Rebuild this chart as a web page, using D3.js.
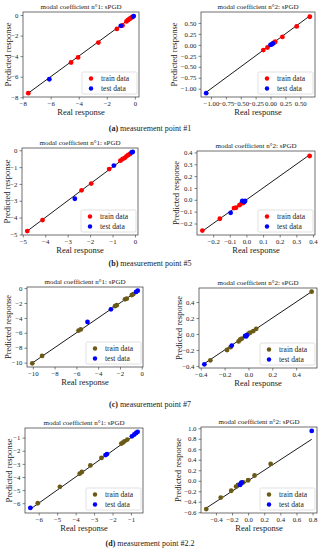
<!DOCTYPE html>
<html>
<head>
<meta charset="utf-8">
<script src="https://cdn.jsdelivr.net/npm/d3@7"></script>
<style>
  body { margin: 0; background: #fff; }
  svg { display: block; font-family: "Liberation Serif", "DejaVu Serif", serif; }
</style>
</head>
<body>
<div id="chart"></div>
<script>
// measurement point #1
const a1Train = [[-7.6,-7.6],[-4.55,-4.62],[-4.05,-4.12],[-2.6,-2.68],[-1.28,-1.35],[-0.88,-1.02],[-0.6,-0.62],[-0.5,-0.5],[-0.42,-0.42],[-0.35,-0.36],[-0.28,-0.27],[-0.2,-0.22]];
const a1Test = [[-6.1,-6.25],[-1.0,-1.05],[-0.08,-0.1],[-0.12,-0.15]];
const a2Train = [[0.66,0.64],[0.44,0.42],[0.2,0.18],[0.08,0.07],[0.06,0.05],[-0.05,-0.06],[-0.12,-0.12]];
const a2Test = [[-1.08,-1.1],[0.04,0.03],[0.02,0.01],[0.0,0.0]];
// measurement point #5
const b1Train = [[-4.8,-4.8],[-4.12,-4.15],[-2.38,-2.38],[-1.95,-1.98],[-1.15,-1.12],[-0.65,-0.62],[-0.55,-0.52],[-0.45,-0.45],[-0.38,-0.36],[-0.3,-0.28],[-0.22,-0.22]];
const b1Test = [[-2.68,-2.88],[-0.94,-0.91],[-0.15,-0.13],[-0.1,-0.1]];
const b2Train = [[0.38,0.37],[-0.265,-0.26],[-0.16,-0.16],[-0.075,-0.07],[-0.063,-0.067],[-0.042,-0.045],[-0.03,-0.03],[-0.02,-0.028]];
const b2Test = [[-0.095,-0.11],[-0.025,-0.01],[-0.012,-0.016],[-0.008,-0.01]];
// measurement point #7
const c1Train = [[-10.05,-10.1],[-9.15,-9.1],[-5.8,-5.7],[-5.6,-5.55],[-2.46,-2.43],[-2.3,-2.3],[-1.54,-1.5],[-1.38,-1.42],[-0.92,-0.94],[-0.77,-0.8]];
const c1Test = [[-4.98,-4.55],[-2.83,-2.85],[-0.52,-0.51],[-0.37,-0.34]];
const c2Train = [[-0.32,-0.33],[-0.18,-0.2],[-0.15,-0.165],[-0.083,-0.093],[-0.069,-0.069],[-0.055,-0.057],[0.0,0.005],[0.014,0.016],[0.04,0.036],[0.065,0.065],[0.53,0.53]];
const c2Test = [[-0.37,-0.38],[-0.14,-0.145],[-0.028,-0.024],[-0.014,-0.016],[-0.02,-0.03]];
// measurement point #2.2
const d1Train = [[-6.05,-6.0],[-4.85,-4.75],[-3.78,-3.75],[-3.66,-3.62],[-3.2,-3.12],[-2.6,-2.55],[-1.52,-1.45],[-1.44,-1.38],[-1.35,-1.28],[-1.2,-1.15]];
const d1Test = [[-6.45,-6.35],[-2.38,-2.33],[-2.3,-2.25],[-0.95,-0.9],[-0.82,-0.76],[-0.72,-0.64],[-0.64,-0.56]];
const d2Train = [[-0.52,-0.54],[-0.34,-0.32],[-0.21,-0.19],[-0.15,-0.11],[-0.126,-0.08],[-0.06,-0.03],[0.0,0.01],[0.08,0.1],[0.28,0.32]];
const d2Test = [[-0.1,-0.08],[-0.09,-0.05],[-0.08,-0.03],[0.79,0.95]];

const ticksA1 = [-8,-6,-4,-2,0];
const ticksA2 = [-1,-0.75,-0.5,-0.25,0,0.25,0.5];
const ticksB1 = [-5,-4,-3,-2,-1,0];
const ticksB2 = [-0.2,-0.1,0,0.1,0.2,0.3,0.4];
const ticksC1 = [-10,-8,-6,-4,-2,0];
const ticksC2 = [-0.4,-0.2,0,0.2,0.4];
const ticksD1 = [-6,-5,-4,-3,-2,-1];
const ticksD2x = [-0.4,-0.2,0,0.2,0.4,0.6,0.8];
const ticksD2y = [-0.6,-0.4,-0.2,0,0.2,0.4,0.6,0.8,1.0];

const captions = [
  { tag: "(a)", text: " measurement point #1", y: 131 },
  { tag: "(b)", text: " measurement point #5", y: 266 },
  { tag: "(c)", text: " measurement point #7", y: 407 },
  { tag: "(d)", text: " measurement point #2.2", y: 546 }
];

const RED = "#ff0000", BLUE = "#0000ff", OLIVE = "#6b5a16";

const panels = [
  { box: [23,12,139,97], ylab: 11, title: "modal coefficient n°1: sPGD", train: a1Train, test: a1Test, xt: ticksA1, yt: ticksA1, fmt: d3.format("d"), trainColor: RED },
  { box: [201,12,315,97], ylab: 177, title: "modal coefficient n°2: sPGD", train: a2Train, test: a2Test, xt: ticksA2, yt: ticksA2, fmt: d3.format(".2f"), trainColor: RED },
  { box: [22,148,138,235], ylab: 10, title: "modal coefficient n°1: sPGD", train: b1Train, test: b1Test, xt: ticksB1, yt: ticksB1, fmt: d3.format("d"), trainColor: RED },
  { box: [197,151,315,235], ylab: 179, title: "modal coefficient n°2: sPGD", train: b2Train, test: b2Test, xt: ticksB2, yt: ticksB2, fmt: d3.format(".1f"), trainColor: RED },
  { box: [27,287,143,367], ylab: 11, title: "modal coefficient n°1: sPGD", train: c1Train, test: c1Test, xt: ticksC1, yt: ticksC1, fmt: d3.format("d"), trainColor: OLIVE },
  { box: [199,288,317,368], ylab: 182, title: "modal coefficient n°2: sPGD", train: c2Train, test: c2Test, xt: ticksC2, yt: ticksC2, fmt: d3.format(".1f"), trainColor: OLIVE },
  { box: [25,428,143,513], ylab: 12, title: "modal coefficient n°1: sPGD", train: d1Train, test: d1Test, xt: ticksD1, yt: ticksD1, fmt: d3.format("d"), trainColor: OLIVE },
  { box: [201,427,317,513], ylab: 181, title: "modal coefficient n°2: sPGD", train: d2Train, test: d2Test, xt: ticksD2x, yt: ticksD2y, fmt: d3.format(".1f"), trainColor: OLIVE }
];

const svg = d3.select("#chart").append("svg").attr("width", 320).attr("height", 550);

// matplotlib-ish minus sign
const mfmt = f => v => f(v).replace("-", "\u2212");

function pad(ext) {
  const p = (ext[1] - ext[0]) * 0.05;
  return [ext[0] - p, ext[1] + p];
}

panels.forEach(p => {
  const [x0, y0, x1, y1] = p.box;
  const all = p.train.concat(p.test);
  const xExt = d3.extent(all, d => d[0]);
  const yExt = d3.extent(all.map(d => d[1]).concat(xExt));

  const x = d3.scaleLinear().domain(pad(xExt)).range([x0, x1]);
  const y = d3.scaleLinear().domain(pad(yExt)).range([y1, y0]);

  const g = svg.append("g");

  // axes
  const xAxis = g.append("g").attr("transform", `translate(0,${y1})`)
    .call(d3.axisBottom(x).tickValues(p.xt).tickFormat(mfmt(p.fmt)).tickSize(2.5).tickPadding(2));
  const yAxis = g.append("g").attr("transform", `translate(${x0},0)`)
    .call(d3.axisLeft(y).tickValues(p.yt).tickFormat(mfmt(p.fmt)).tickSize(2.5).tickPadding(2));
  [xAxis, yAxis].forEach(a => {
    a.select(".domain").remove();
    a.selectAll("line").attr("stroke", "#333").attr("stroke-width", 0.6);
    a.selectAll("text").attr("font-size", 6.8).attr("fill", "#222")
      .attr("font-family", "Liberation Serif, serif");
  });

  // diagonal line y = x
  g.append("line")
    .attr("x1", x(xExt[0])).attr("y1", y(xExt[0]))
    .attr("x2", x(xExt[1])).attr("y2", y(xExt[1]))
    .attr("stroke", "#000").attr("stroke-width", 0.9);

  g.selectAll("circle.train").data(p.train).join("circle")
    .attr("class", "train")
    .attr("cx", d => x(d[0])).attr("cy", d => y(d[1])).attr("r", 2.4)
    .attr("fill", p.trainColor);
  g.selectAll("circle.test").data(p.test).join("circle")
    .attr("class", "test")
    .attr("cx", d => x(d[0])).attr("cy", d => y(d[1])).attr("r", 2.4)
    .attr("fill", BLUE);

  // frame
  g.append("rect").attr("x", x0).attr("y", y0).attr("width", x1 - x0).attr("height", y1 - y0)
    .attr("fill", "none").attr("stroke", "#333").attr("stroke-width", 0.7);

  // title
  g.append("text").attr("x", (x0 + x1) / 2).attr("y", y0 - 3)
    .attr("text-anchor", "middle").attr("font-size", 7).attr("fill", "#222")
    .text(p.title);

  // axis labels
  g.append("text").attr("x", (x0 + x1) / 2).attr("y", y1 + 18)
    .attr("text-anchor", "middle").attr("font-size", 8.5).attr("fill", "#222")
    .text("Real response");
  g.append("text")
    .attr("transform", `translate(${p.ylab},${(y0 + y1) / 2}) rotate(-90)`)
    .attr("text-anchor", "middle").attr("font-size", 8.5).attr("fill", "#222")
    .text("Predicted response");

  // legend
  const lw = 55, lh = 22;
  const lx = x1 - lw - 2, ly = y1 - lh - 3;
  const leg = g.append("g").attr("transform", `translate(${lx},${ly})`);
  leg.append("rect").attr("width", lw).attr("height", lh).attr("rx", 1.5)
    .attr("fill", "#fff").attr("fill-opacity", 0.8).attr("stroke", "#ccc").attr("stroke-width", 0.6);
  [["train data", p.trainColor], ["test data", BLUE]].forEach((e, i) => {
    leg.append("circle").attr("cx", 9).attr("cy", 6.5 + i * 10).attr("r", 2.2).attr("fill", e[1]);
    leg.append("text").attr("x", 19).attr("y", 9 + i * 10).attr("font-size", 7.5).attr("fill", "#222").text(e[0]);
  });
});

// captions
captions.forEach(c => {
  const t = svg.append("text").attr("x", 150).attr("y", c.y).attr("text-anchor", "middle")
    .attr("font-size", 8).attr("fill", "#222");
  t.append("tspan").attr("font-weight", "bold").text(c.tag);
  t.append("tspan").text(c.text);
});
</script>
</body>
</html>
